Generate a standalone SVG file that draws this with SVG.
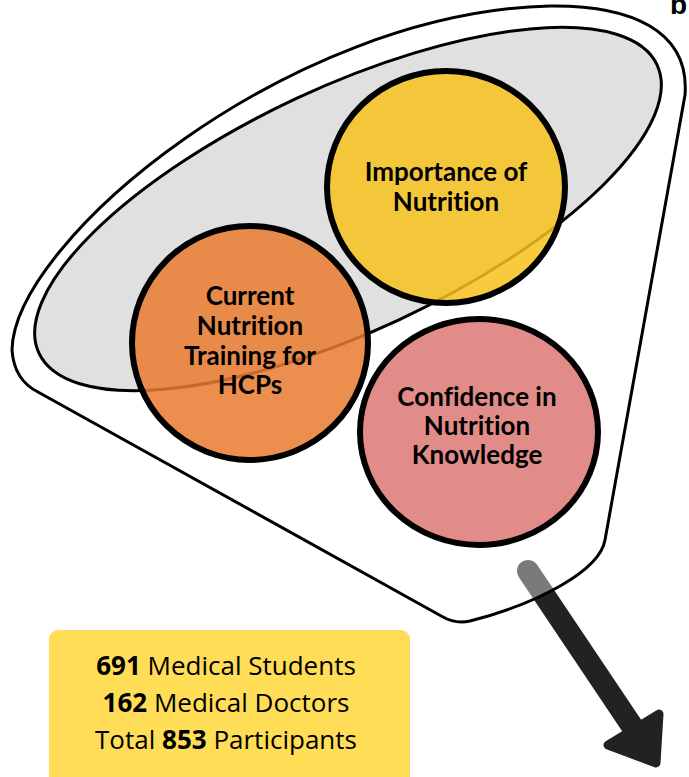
<svg xmlns="http://www.w3.org/2000/svg" width="689" height="777" viewBox="0 0 689 777">
<style>
.lbl{font-family:Lato,"Open Sans","Liberation Sans",sans-serif;font-weight:bold;font-size:26px;fill:#000;text-anchor:middle;font-variant-ligatures:none;font-feature-settings:"liga" 0}
.box{font-family:"Open Sans","Noto Sans","Liberation Sans",sans-serif;font-size:26px;fill:#000;text-anchor:middle}
.node{stroke:#000;stroke-width:6;fill-opacity:0.85}
</style>
<rect width="689" height="777" fill="#fff"/>
<g id="connectors">
  <line x1="528" y1="571" x2="634" y2="729" stroke="#222" stroke-width="22" stroke-linecap="round"/>
  <polygon points="659,714 608,745 656,763" fill="#222" stroke="#222" stroke-width="9" stroke-linejoin="round"/>
</g>
<g id="funnel">
  <path d="M443,617 L38,392 Q14,380 12,350 C14,240 290,12 550,6 C630,5 690,30 685,95 L605,540 C600,570 540,603 470,621 Q455,624 443,617 Z" fill="#fff" fill-opacity="0.4" stroke="#000" stroke-width="3"/>
</g>
<g id="group-ellipse">
  <ellipse cx="348" cy="209" rx="341" ry="122" transform="rotate(-25 348 209)" fill="#e0e0e0" stroke="#000" stroke-width="3"/>
</g>
<g id="node-importance">
  <ellipse class="node" cx="446" cy="187" rx="119" ry="116" fill="#f7c21d"/>
  <text class="lbl" x="446" y="181">Importance of</text>
  <text class="lbl" x="446" y="211">Nutrition</text>
</g>
<g id="node-training">
  <ellipse class="node" cx="250" cy="343" rx="118" ry="117" fill="#e97a2f"/>
  <text class="lbl" x="250" y="305">Current</text>
  <text class="lbl" x="250" y="335">Nutrition</text>
  <text class="lbl" x="250" y="365">Training for</text>
  <text class="lbl" x="250" y="394">HCPs</text>
</g>
<g id="node-confidence">
  <ellipse class="node" cx="479" cy="432" rx="119" ry="113" fill="#dd7876"/>
  <text class="lbl" x="477" y="406">Confidence in</text>
  <text class="lbl" x="477" y="435">Nutrition</text>
  <text class="lbl" x="477" y="464">Knowledge</text>
</g>
<g id="node-participants">
  <rect x="49" y="630" width="361" height="160" rx="9" fill="#ffdd57"/>
  <text class="box" x="226" y="675"><tspan font-weight="bold">691</tspan> Medical Students</text>
  <text class="box" x="226" y="712"><tspan font-weight="bold">162</tspan> Medical Doctors</text>
  <text class="box" x="226" y="749">Total <tspan font-weight="bold">853</tspan> Participants</text>
</g>
<g id="panel-label">
  <text x="670" y="14" font-family="Liberation Sans,Arial,sans-serif" font-weight="bold" font-size="28" fill="#000">b</text>
</g>
</svg>
